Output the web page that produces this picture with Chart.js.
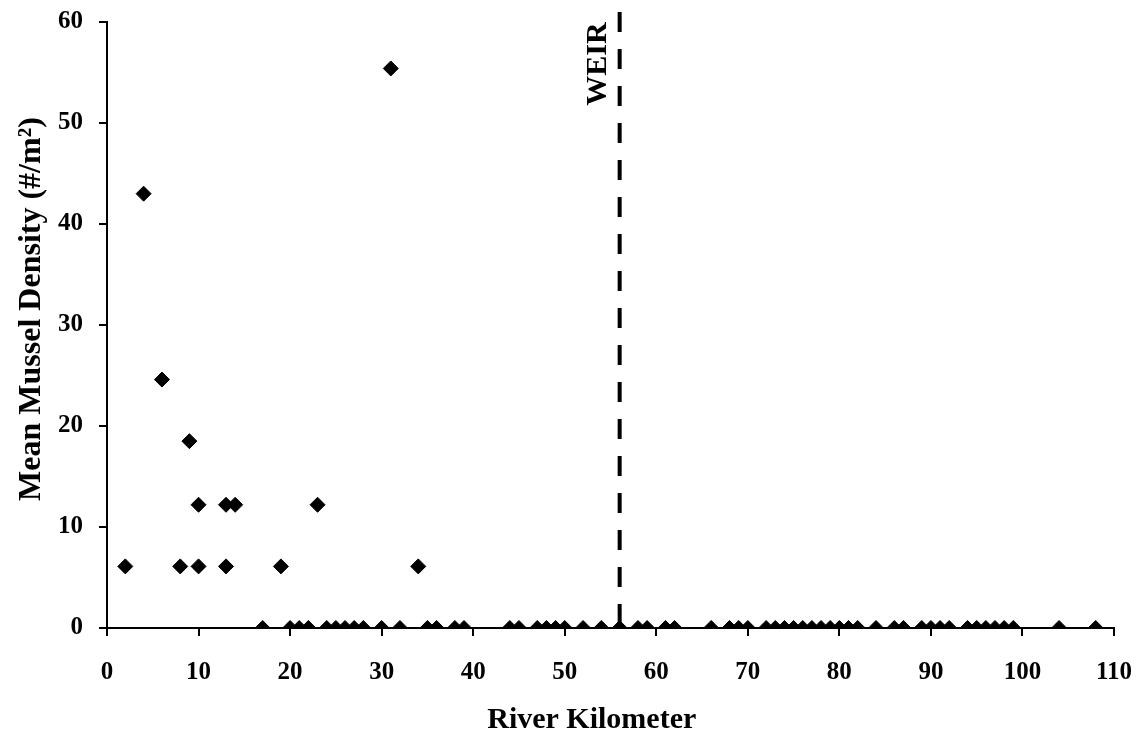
<!DOCTYPE html>
<html>
<head>
<meta charset="utf-8">
<script src="https://cdn.jsdelivr.net/npm/chart.js@4"></script>
<style>
  html, body { margin: 0; padding: 0; background: #fff; }
  #wrap { width: 1147px; height: 738px; }
</style>
</head>
<body>
<div id="wrap"><canvas id="c" width="1147" height="738"></canvas></div>
<script>
// River kilometer of each site and mean mussel density (#/m2)
const riverKm = [2, 4, 6, 8, 9, 10, 10, 13, 13, 14, 19, 23, 31, 34,
  17, 20, 21, 22, 24, 25, 26, 27, 28, 30, 32, 35, 36, 38, 39,
  44, 45, 47, 48, 49, 50, 52, 54, 56, 58, 59, 61, 62, 66, 68, 69, 70,
  72, 73, 74, 75, 76, 77, 78, 79, 80, 81, 82, 84, 86, 87, 89, 90, 91, 92,
  94, 95, 96, 97, 98, 99, 104, 108];
const density = [6.1, 43.0, 24.6, 6.1, 18.5, 12.2, 6.1, 12.2, 6.1, 12.2, 6.1, 12.2, 55.4, 6.1,
  0, 0, 0, 0, 0, 0, 0, 0, 0, 0, 0, 0, 0, 0, 0,
  0, 0, 0, 0, 0, 0, 0, 0, 0, 0, 0, 0, 0, 0, 0, 0, 0,
  0, 0, 0, 0, 0, 0, 0, 0, 0, 0, 0, 0, 0, 0, 0, 0, 0, 0,
  0, 0, 0, 0, 0, 0, 0, 0];
const weirKm = 56;
const weirTop = 61;
const weirLabel = 'WEIR';
const xTitle = 'River Kilometer';
const yTitle = 'Mean Mussel Density (#/m\u00B2)';
const xMin = 0, xMax = 110, xStep = 10;
const yMin = 0, yMax = 60, yStep = 10;

const FONT = '"Liberation Serif", "Times New Roman", serif';
const points = riverKm.map((k, i) => ({ x: k, y: density[i] }));

const weirText = {
  id: 'weirText',
  afterDatasetsDraw(chart) {
    const { ctx, scales } = chart;
    const x = scales.x.getPixelForValue(weirKm);
    const y = scales.y.getPixelForValue(yMax);
    ctx.save();
    ctx.translate(x - 21, y + 42);
    ctx.rotate(-Math.PI / 2);
    ctx.fillStyle = '#000';
    ctx.font = 'bold 30px ' + FONT;
    ctx.textAlign = 'center';
    ctx.textBaseline = 'middle';
    ctx.fillText(weirLabel, 0, 0);
    ctx.restore();
  }
};

new Chart(document.getElementById('c'), {
  type: 'scatter',
  data: {
    datasets: [
      {
        data: points,
        backgroundColor: '#000',
        borderColor: '#000',
        borderWidth: 1,
        pointStyle: 'rectRot',
        pointRadius: 7.5,
        pointHoverRadius: 7.5
      },
      {
        type: 'line',
        data: [{ x: weirKm, y: weirTop }, { x: weirKm, y: 0 }],
        borderColor: '#000',
        borderWidth: 4,
        borderDash: [20, 17],
        pointRadius: 0,
        showLine: true,
        fill: false,
        clip: false
      }
    ]
  },
  options: {
    responsive: false,
    animation: false,
    events: [],
    layout: { padding: { top: 22, right: 33, bottom: 0, left: 0 } },
    plugins: { legend: { display: false }, tooltip: { enabled: false } },
    scales: {
      x: {
        type: 'linear',
        min: xMin, max: xMax,
        afterFit(s) { s.height = 110; s.paddingLeft = 0; s.paddingRight = 0; },
        border: { display: true, color: '#000', width: 2 },
        grid: { display: true, drawOnChartArea: false, drawTicks: true, tickLength: 8, color: '#000', lineWidth: 2 },
        ticks: { stepSize: xStep, color: '#000', padding: 22, maxRotation: 0,
                 font: { family: FONT, size: 25, weight: 'bold' } },
        title: { display: true, text: xTitle + '     ', color: '#000', padding: { top: 0, bottom: 0 },
                 font: { family: FONT, size: 30, weight: 'bold' } }
      },
      y: {
        type: 'linear',
        min: yMin, max: yMax,
        afterFit(s) { s.width = 107; s.paddingTop = 0; s.paddingBottom = 0; },
        border: { display: true, color: '#000', width: 2 },
        grid: { display: true, drawOnChartArea: false, drawTicks: true, tickLength: 8, color: '#000', lineWidth: 2 },
        ticks: { stepSize: yStep, color: '#000', padding: 16,
                 font: { family: FONT, size: 25, weight: 'bold' } },
        title: { display: true, text: '    ' + yTitle, color: '#000', padding: { top: 13, bottom: 0 },
                 font: { family: FONT, size: 32, weight: 'bold' } }
      }
    }
  },
  plugins: [weirText]
});
</script>
</body>
</html>
